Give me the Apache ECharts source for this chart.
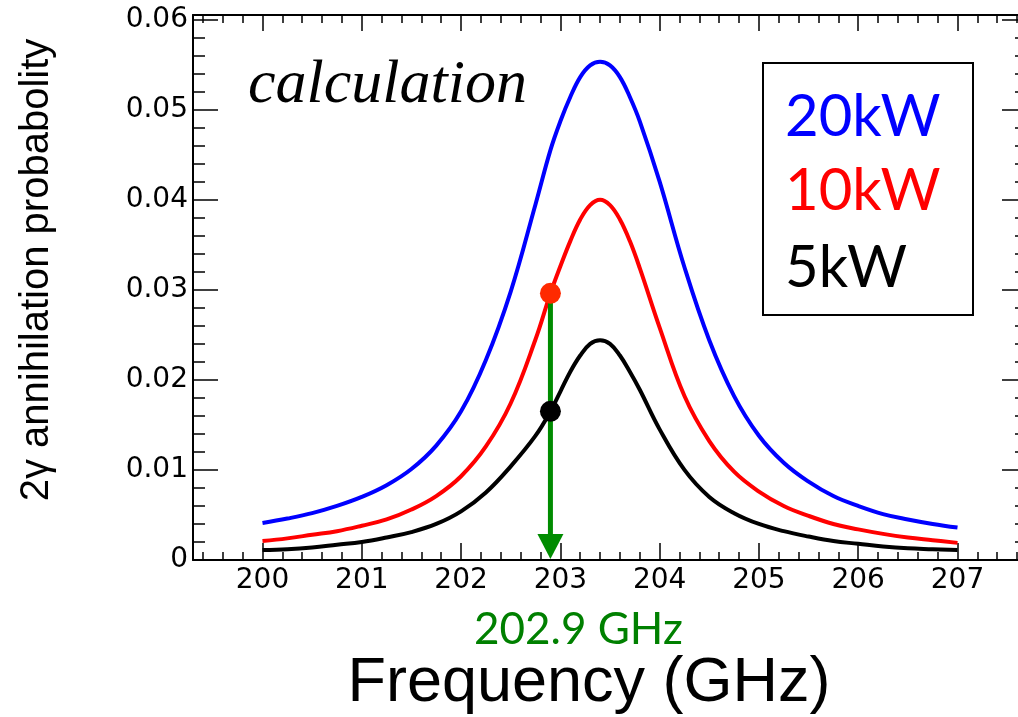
<!DOCTYPE html>
<html><head><meta charset="utf-8">
<script src="https://cdn.jsdelivr.net/npm/echarts@6/dist/echarts.min.js"></script>
<style>html,body{margin:0;padding:0;background:#fff}#c{width:1018px;height:717px}</style>
</head><body><div id="c"></div>
<script>
// ---- data ----
const freq = [200.00,200.25,200.50,200.75,201.00,201.25,201.50,201.75,202.00,202.25,202.50,202.75,202.90,203.00,203.10,203.20,203.30,203.40,203.50,203.60,203.70,203.80,204.00,204.25,204.50,204.75,205.00,205.25,205.50,205.75,206.00,206.25,206.50,206.75,207.00];
const p20kW = [0.0041,0.0046,0.0052,0.0060,0.0070,0.0083,0.0101,0.0127,0.0165,0.0222,0.0298,0.0395,0.0455,0.0487,0.0514,0.0536,0.0549,0.0553,0.0549,0.0536,0.0514,0.0487,0.0420,0.0325,0.0244,0.0182,0.0138,0.0108,0.0087,0.0071,0.0060,0.0051,0.0045,0.0040,0.0036];
const p10kW = [0.0021,0.0024,0.0028,0.0032,0.0038,0.0045,0.0056,0.0071,0.0093,0.0126,0.0174,0.0245,0.0296,0.0326,0.0354,0.0378,0.0394,0.0400,0.0394,0.0378,0.0354,0.0324,0.0258,0.0182,0.0132,0.0098,0.0076,0.0060,0.0049,0.0040,0.0034,0.0029,0.0025,0.0022,0.0019];
const p5kW = [0.0011,0.0012,0.0014,0.0017,0.0020,0.0025,0.0031,0.0040,0.0054,0.0075,0.0104,0.0138,0.0165,0.0187,0.0209,0.0227,0.0240,0.0244,0.0240,0.0227,0.0209,0.0189,0.0145,0.0100,0.0070,0.0052,0.0040,0.0032,0.0026,0.0021,0.0018,0.0015,0.0013,0.0012,0.0011];
const seriesNames = ['20kW','10kW','5kW'];
const xTickLabels = [200,201,202,203,204,205,206,207];
const yTickLabels = [0,0.01,0.02,0.03,0.04,0.05,0.06];
const markerFreq = 202.9;
const marker10kW = 0.0296;
const marker5kW = 0.0165;
const markerLabel = '202.9 GHz';
const xTitle = 'Frequency (GHz)';
const yTitle = '2\u03b3 annihilation probabolity';
const noteText = 'calculation';

// ---- chart ----
const X_MIN = 199.3, X_MAX = 207.7, Y_MIN = 0, Y_MAX = 0.0605;
const axisFont = 'DejaVu Sans';
const black = '#000';

// minor tick positions (every 0.2 GHz / 0.002) inside the axis ranges
const xMinor = [];
for (let k = Math.ceil(X_MIN * 5); k <= Math.floor(X_MAX * 5); k++) xMinor.push(+(k / 5).toFixed(1));
const yMinor = [];
for (let k = 0; k * 0.002 <= Y_MAX + 1e-9; k++) yMinor.push(+(k * 0.002).toFixed(3));

function xAx(position, ticks, len, labels, line) {
  return {
    type: 'value', position, min: X_MIN, max: X_MAX,
    axisLine: { show: line, onZero: false, lineStyle: { color: black, width: 2 } },
    axisTick: { show: true, inside: true, length: len, customValues: ticks, lineStyle: { color: black, width: 1.5 } },
    axisLabel: labels ? { show: true, customValues: ticks, margin: 7, color: black,
      fontSize: 28, fontFamily: axisFont, formatter: v => String(Math.round(v)) } : { show: false },
    splitLine: { show: false }
  };
}
function yAx(position, ticks, len, labels, line) {
  return {
    type: 'value', position, min: Y_MIN, max: Y_MAX,
    axisLine: { show: line, onZero: false, lineStyle: { color: black, width: 2 } },
    axisTick: { show: true, inside: true, length: len, customValues: ticks, lineStyle: { color: black, width: 1.5 } },
    axisLabel: labels ? { show: true, customValues: ticks, margin: 5, color: black,
      fontSize: 28, fontFamily: axisFont, formatter: v => (v === 0 ? '0' : v.toFixed(2)) } : { show: false },
    splitLine: { show: false }
  };
}

function pairs(ys) { return freq.map((f, i) => [f, ys[i]]); }
function lineSeries(name, ys, color) {
  return { name, type: 'line', data: pairs(ys), xAxisIndex: 0, yAxisIndex: 0, smooth: 0.4,
    showSymbol: false, symbol: 'none', silent: true, z: 2,
    lineStyle: { color, width: 4, cap: 'butt' } };
}

const chart = echarts.init(document.getElementById('c'), null, { renderer: 'canvas' });
const option = {
  animation: false,
  backgroundColor: '#fff',
  grid: { left: 193, top: 15, width: 834, height: 545, containLabel: false, outerBoundsMode: 'none' },
  xAxis: [ xAx('bottom', xTickLabels, 17, true, true), xAx('bottom', xMinor, 8, false, false),
           xAx('top', xTickLabels, 16, false, true), xAx('top', xMinor, 8, false, false) ],
  yAxis: [ yAx('left', yTickLabels, 25, true, true), yAx('left', yMinor, 12, false, false),
           yAx('right', yTickLabels, 25, false, true), yAx('right', yMinor, 12, false, false) ],
  series: [
    lineSeries(seriesNames[0], p20kW, '#0000ff'),
    lineSeries(seriesNames[1], p10kW, '#ff0000'),
    lineSeries(seriesNames[2], p5kW, '#000000'),
    {
      type: 'custom', xAxisIndex: 0, yAxisIndex: 0, z: 3, silent: true,
      data: [[markerFreq, marker10kW, 0]],
      renderItem: (params, api) => {
        const top = api.coord([api.value(0), api.value(1)]);
        const bot = api.coord([api.value(0), api.value(2)]);
        const hw = 13, hh = 26;
        return { type: 'group', children: [
          { type: 'line', shape: { x1: top[0], y1: top[1], x2: bot[0], y2: bot[1] - hh + 2 },
            style: { stroke: '#008c00', lineWidth: 5 } },
          { type: 'polygon', shape: { points: [[bot[0] - hw, bot[1] - hh], [bot[0] + hw, bot[1] - hh], [bot[0], bot[1] - 1]] },
            style: { fill: '#008c00' } }
        ] };
      }
    },
    {
      type: 'scatter', xAxisIndex: 0, yAxisIndex: 0, z: 5, silent: true, symbolSize: 21,
      itemStyle: { opacity: 1 },
      data: [
        { value: [markerFreq, marker10kW], itemStyle: { color: '#ff2a00', opacity: 1 } },
        { value: [markerFreq, marker5kW], itemStyle: { color: '#000000', opacity: 1 } }
      ]
    }
  ],
  graphic: { elements: [
    { type: 'text', x: 248, y: 86, z: 10, style: { text: noteText, fill: black,
      font: 'italic 62px "Liberation Serif"', textAlign: 'left', textVerticalAlign: 'middle' } },
    { type: 'rect', shape: { x: 763, y: 63, width: 210, height: 252 }, z: 10,
      style: { fill: '#fff', stroke: black, lineWidth: 2 } },
    { type: 'text', x: 785, y: 117, z: 11, style: { text: seriesNames[0], fill: '#0000ff',
      font: '58px Lato', textAlign: 'left', textVerticalAlign: 'middle' } },
    { type: 'text', x: 785, y: 191, z: 11, style: { text: seriesNames[1], fill: '#ff0000',
      font: '58px Lato', textAlign: 'left', textVerticalAlign: 'middle' } },
    { type: 'text', x: 785, y: 268, z: 11, style: { text: seriesNames[2], fill: '#000000',
      font: '58px Lato', textAlign: 'left', textVerticalAlign: 'middle' } },
    { type: 'text', x: 474, y: 630, z: 10, style: { text: markerLabel, fill: '#008000',
      font: '44px Lato', textAlign: 'left', textVerticalAlign: 'middle' } },
    { type: 'text', x: 589, y: 684, z: 10, style: { text: xTitle, fill: black,
      font: '63px "Liberation Sans"', textAlign: 'center', textVerticalAlign: 'middle' } },
    { type: 'text', x: 37, y: 270, rotation: Math.PI / 2, z: 10, style: { text: yTitle, fill: black,
      font: '40px "Liberation Sans"', textAlign: 'center', textVerticalAlign: 'middle' } }
  ] }
};
chart.setOption(option);
</script>
</body></html>
